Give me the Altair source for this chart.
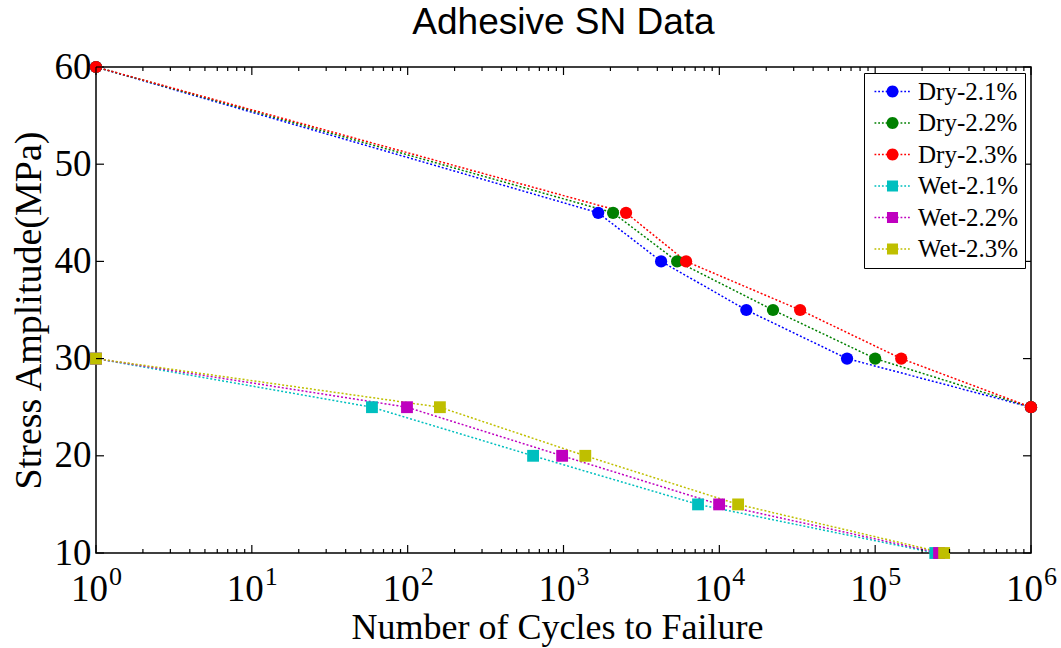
import math
import altair as alt
import pandas as pd

# ---------------- data ----------------
series_names = ["Dry-2.1%", "Dry-2.2%", "Dry-2.3%", "Wet-2.1%", "Wet-2.2%", "Wet-2.3%"]
series_colors = ["#0000ff", "#008000", "#ff0000", "#00bfbf", "#bf00bf", "#bfbf00"]

dry_stress = [60, 45, 40, 35, 30, 25]
wet_stress = [30, 25, 20, 15, 10]

dry_21_cycles = [1, 1670, 4230, 14900, 66000, 1000000]
dry_22_cycles = [1, 2080, 5360, 22100, 100000, 1000000]
dry_23_cycles = [1, 2520, 6120, 33000, 147000, 1000000]
wet_21_cycles = [1, 59, 638, 7300, 243000]
wet_22_cycles = [1, 99, 980, 9970, 257000]
wet_23_cycles = [1, 161, 1380, 13200, 277000]

x_major_ticks = [1, 10, 100, 1000, 10000, 100000, 1000000]
x_tick_base = ["10"] * 7
x_tick_exponents = ["0", "1", "2", "3", "4", "5", "6"]
x_minor_ticks = [k * 10 ** d for d in range(6) for k in range(2, 10)]
y_ticks = [10, 20, 30, 40, 50, 60]

# ---------------- table ----------------
rows = []
all_cycles = [dry_21_cycles, dry_22_cycles, dry_23_cycles, wet_21_cycles, wet_22_cycles, wet_23_cycles]
for name, cyc in zip(series_names, all_cycles):
    group = "Dry" if name.startswith("Dry") else "Wet"
    stress = dry_stress if group == "Dry" else wet_stress
    for i, (c, s) in enumerate(zip(cyc, stress)):
        rows.append({"series": name, "group": group, "cycles": c, "stress": s, "idx": i})
df = pd.DataFrame(rows)

xt_df = pd.DataFrame({"cycles": x_major_ticks, "base": x_tick_base, "e": x_tick_exponents})
xm_df = pd.DataFrame({"cycles": x_minor_ticks})
yt_df = pd.DataFrame({"stress": y_ticks})

W, H = 935, 486
SERIF = "Liberation Serif"

xs = alt.Scale(type="log", domain=[1, 1000000], nice=False)
ys = alt.Scale(domain=[10, 60], nice=False, zero=False)
cs = alt.Scale(domain=series_names, range=series_colors)


# ---------------- legend symbols (dotted line + marker) ----------------
def fmt(v):
    return f"{v:.3f}"


def dots_path():
    parts = []
    x = -3.0
    while x < 2.95:
        parts.append(f"M{fmt(x)} -0.12 L{fmt(x + 0.3)} -0.12 L{fmt(x + 0.3)} 0.12 L{fmt(x)} 0.12 Z")
        x += 0.62
    return " ".join(parts)


def circle_path(r=1.0, n=28):
    pts = [(r * math.cos(2 * math.pi * i / n), r * math.sin(2 * math.pi * i / n)) for i in range(n)]
    return "M" + " L".join(f"{fmt(a)} {fmt(b)}" for a, b in pts) + " Z"


def square_path(h=0.92):
    return f"M{-h} {-h} L{h} {-h} L{h} {h} L{-h} {h} Z"


circ_sym = dots_path() + " " + circle_path()
sq_sym = dots_path() + " " + square_path()

legend_kw = dict(
    title=None,
    orient="top-right",
    offset=6,
    strokeColor="black",
    fillColor="white",
    padding=6,
    cornerRadius=0,
    labelFont=SERIF,
    labelFontSize=25,
    labelColor="black",
    labelLimit=400,
    symbolSize=144,
    symbolStrokeWidth=0,
    symbolOffset=10,
    labelOffset=13,
    rowPadding=5.5,
)

# ---------------- layers ----------------
lines = alt.Chart(df).mark_line(strokeDash=[2, 2], strokeWidth=1.5).encode(
    x=alt.X(
        "cycles:Q",
        scale=xs,
        axis=alt.Axis(
            title="Number of Cycles to Failure",
            titleFont=SERIF,
            titleFontSize=36,
            titleFontWeight="normal",
            titleColor="black",
            titleX=461,
            titleY=85,
            titleAlign="center",
            titleBaseline="alphabetic",
            labels=False,
            ticks=False,
            domain=False,
            grid=False,
        ),
    ),
    y=alt.Y(
        "stress:Q",
        scale=ys,
        axis=alt.Axis(
            title="Stress Amplitude(MPa)",
            values=y_ticks,
            labelFont=SERIF,
            labelFontSize=37,
            labelColor="black",
            labelPadding=5,
            labelOverlap=False,
            ticks=False,
            domain=False,
            grid=False,
            titleFont=SERIF,
            titleFontSize=38,
            titleFontWeight="normal",
            titleColor="black",
            titlePadding=6,
        ),
    ),
    color=alt.Color("series:N", scale=cs),
    order=alt.Order("idx:Q"),
)

circles = alt.Chart(df).transform_filter("datum.group == 'Dry'").mark_point(
    filled=True, opacity=1, size=150, shape="circle"
).encode(
    x=alt.X("cycles:Q", scale=xs),
    y=alt.Y("stress:Q", scale=ys),
    color=alt.Color("series:N", scale=cs),
)

squares = alt.Chart(df).transform_filter("datum.group == 'Wet'").mark_point(
    filled=True, opacity=1, size=140, shape="square"
).encode(
    x=alt.X("cycles:Q", scale=xs),
    y=alt.Y("stress:Q", scale=ys),
    color=alt.Color("series:N", scale=cs),
)

legend_layer = alt.Chart(df).transform_filter("false").mark_point(filled=True, opacity=1).encode(
    color=alt.Color("series:N", scale=cs, legend=alt.Legend(**legend_kw)),
    shape=alt.Shape(
        "series:N",
        scale=alt.Scale(domain=series_names, range=[circ_sym] * 3 + [sq_sym] * 3),
        legend=alt.Legend(**legend_kw),
    ),
)


# ticks (inward)
def xrule(data, y0, y1):
    return alt.Chart(data).mark_rule(color="black", strokeWidth=1.2).encode(
        x=alt.X("cycles:Q", scale=xs), y=alt.value(y0), y2=alt.value(y1)
    )


def yrule(x0, x1):
    return alt.Chart(yt_df).mark_rule(color="black", strokeWidth=1.2).encode(
        y=alt.Y("stress:Q", scale=ys), x=alt.value(x0), x2=alt.value(x1)
    )


ticks = [
    xrule(xt_df, H, H - 8),
    xrule(xt_df, 0, 8),
    xrule(xm_df, H, H - 4),
    xrule(xm_df, 0, 4),
    yrule(0, 8),
    yrule(W - 8, W),
]

xlab_base = alt.Chart(xt_df).mark_text(
    font=SERIF, fontSize=37, align="right", baseline="alphabetic", dx=12, color="black"
).encode(x=alt.X("cycles:Q", scale=xs), y=alt.value(534), text="base:N")

xlab_exp = alt.Chart(xt_df).mark_text(
    font=SERIF, fontSize=26, align="left", baseline="alphabetic", dx=13, color="black"
).encode(x=alt.X("cycles:Q", scale=xs), y=alt.value(518), text="e:N")

chart = alt.layer(
    lines, circles, squares, legend_layer, xlab_base, xlab_exp, *ticks
).properties(
    width=W,
    height=H,
    title=alt.TitleParams(
        "Adhesive SN Data",
        font="Liberation Sans",
        fontSize=37,
        fontWeight="normal",
        color="black",
        anchor="middle",
        offset=6,
    ),
    padding={"left": 96, "top": 67, "right": 30, "bottom": 95},
    autosize=alt.AutoSizeParams(type="none"),
    background="white",
).configure_view(stroke="black", strokeWidth=1.5)

chart.save("out.html", embed_options={"renderer": "svg", "actions": False})
